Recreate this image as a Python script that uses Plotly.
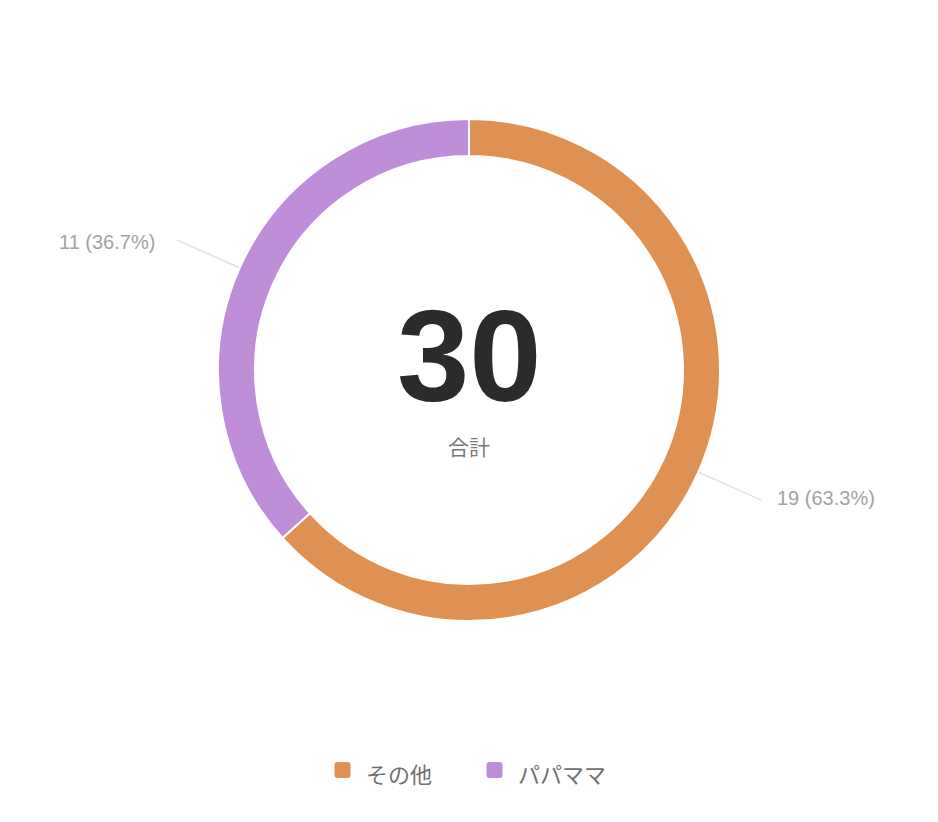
import math
import plotly.graph_objects as go

# --- data ---
labels = ["その他", "パパママ"]
values = [19, 11]
colors = ["#DE9152", "#C08DD8"]
center_caption = "合計"

# --- geometry (pixels) ---
W, H = 938, 822
CX, CY = 469, 370
R_OUT = 251
R_IN = 214
LEADER_START = 252
LEADER_END = 320

LATIN = "Helvetica Neue, Liberation Sans, Arial, sans-serif"
CJK = "Hiragino Sans, Noto Sans CJK JP, sans-serif"

total = sum(values)

fig = go.Figure()

fig.add_trace(go.Pie(
    labels=labels,
    values=values,
    hole=R_IN / R_OUT,
    sort=False,
    direction="clockwise",
    rotation=0,
    marker=dict(colors=colors, line=dict(color="white", width=2)),
    textinfo="none",
    hoverinfo="skip",
    showlegend=False,
    domain=dict(
        x=[(CX - R_OUT) / W, (CX + R_OUT) / W],
        y=[(H - CY - R_OUT) / H, (H - CY + R_OUT) / H],
    ),
))

# leader lines and outside value labels, placed at each slice's mid-angle
annotations = []
cum = 0
for lab, v in zip(labels, values):
    theta = 2 * math.pi * (cum + v / 2) / total
    cum += v
    s, c = math.sin(theta), math.cos(theta)
    x0, y0 = CX + LEADER_START * s, CY - LEADER_START * c
    x1, y1 = CX + LEADER_END * s, CY - LEADER_END * c
    fig.add_trace(go.Scatter(
        x=[x0, x1], y=[y0, y1], mode="lines",
        line=dict(color="#e3e3e3", width=1.5),
        hoverinfo="skip", showlegend=False,
    ))
    right = s >= 0
    annotations.append(dict(
        x=x1 + (14 if right else -20), y=y1 + (-2 if right else 2),
        xref="x", yref="y",
        xanchor="left" if right else "right", yanchor="middle",
        text=f"{v} ({v / total * 100:.1f}%)",
        showarrow=False,
        font=dict(family=LATIN, size=20, color="#a3a3a3"),
    ))

# centre total
annotations.append(dict(
    x=CX, y=356, xref="x", yref="y", xanchor="center", yanchor="middle",
    text=f"<b>{total}</b>", showarrow=False,
    font=dict(family=LATIN, size=130, color="#2b2b29"),
))
annotations.append(dict(
    x=CX, y=446, xref="x", yref="y", xanchor="center", yanchor="middle",
    text=center_caption, showarrow=False,
    font=dict(family=CJK, size=21, color="#7a7a7a"),
))

# legend: rounded swatches with labels
shapes = []
legend_x = [342.5, 494.5]
LEG_Y = 770
SW = 8
RAD = 3
for lx, lab, col in zip(legend_x, labels, colors):
    a, b = lx - SW, lx + SW
    t, u = LEG_Y - SW, LEG_Y + SW
    path = (f"M{a + RAD},{t} L{b - RAD},{t} Q{b},{t} {b},{t + RAD} "
            f"L{b},{u - RAD} Q{b},{u} {b - RAD},{u} L{a + RAD},{u} "
            f"Q{a},{u} {a},{u - RAD} L{a},{t + RAD} Q{a},{t} {a + RAD},{t} Z")
    shapes.append(dict(type="path", path=path, xref="x", yref="y",
                       fillcolor=col, line=dict(width=0)))
    annotations.append(dict(
        x=lx + 21, y=LEG_Y + 3, xref="x", yref="y",
        xanchor="left", yanchor="middle", text=lab, showarrow=False,
        font=dict(family=CJK, size=22, color="#707070"),
    ))

fig.update_layout(
    width=W, height=H,
    margin=dict(l=0, r=0, t=0, b=0),
    paper_bgcolor="white", plot_bgcolor="rgba(0,0,0,0)",
    xaxis=dict(range=[0, W], visible=False, fixedrange=True),
    yaxis=dict(range=[H, 0], visible=False, fixedrange=True),
    annotations=annotations,
    shapes=shapes,
    showlegend=False,
)

fig.write_html("out.html")
